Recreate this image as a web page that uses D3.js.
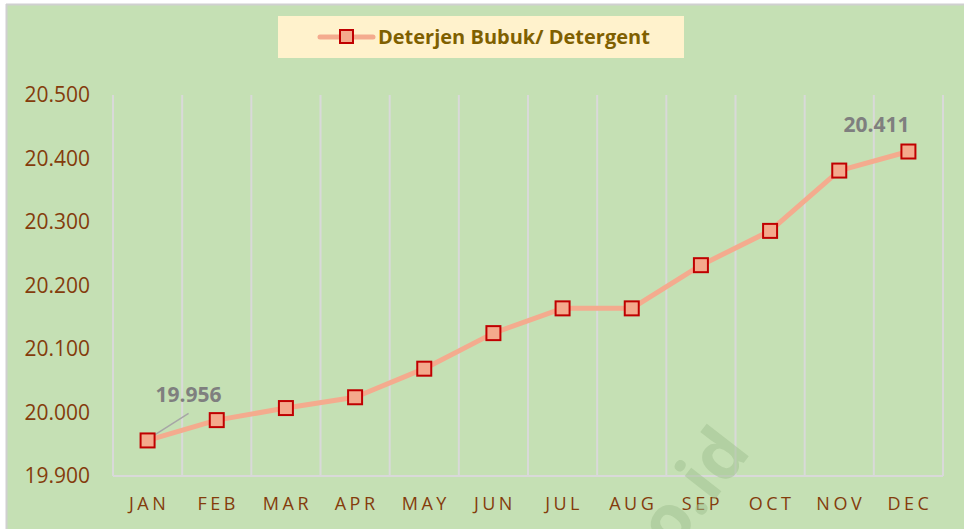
<!DOCTYPE html>
<html>
<head>
<meta charset="utf-8">
<script src="https://cdn.jsdelivr.net/npm/d3@7"></script>
<style>
  body { margin: 0; background: #fff; }
  svg { display: block; font-family: "Open Sans", "Noto Sans", sans-serif; }
</style>
</head>
<body>
<script>
var months = ["JAN","FEB","MAR","APR","MAY","JUN","JUL","AUG","SEP","OCT","NOV","DEC"];
var values = [19.956, 19.988, 20.007, 20.024, 20.069, 20.125, 20.164, 20.164, 20.232, 20.286, 20.381, 20.411];
var yTicks = [19.9, 20.0, 20.1, 20.2, 20.3, 20.4, 20.5];
var seriesName = "Deterjen Bubuk/ Detergent";

var W = 964, H = 529;
var margin = {top: 95, bottom: 53, left: 113, right: 21};
var width = W - margin.left - margin.right;
var height = H - margin.top - margin.bottom;
var fontFam = "'Open Sans', 'Noto Sans', sans-serif";

var svg = d3.select("body").append("svg")
  .attr("width", W).attr("height", H);

// background + frame (top and left edges visible)
svg.append("rect").attr("x", 0).attr("y", 0).attr("width", W).attr("height", H)
  .attr("fill", "#ffffff");
svg.append("rect").attr("x", 7).attr("y", 5).attr("width", W - 7).attr("height", H - 5)
  .attr("fill", "#c5e0b4");
svg.append("line").attr("x1", 6.5).attr("x2", 6.5).attr("y1", 4).attr("y2", H)
  .attr("stroke", "#d0d0d0").attr("stroke-width", 2);
svg.append("line").attr("x1", 6).attr("x2", W).attr("y1", 4.5).attr("y2", 4.5)
  .attr("stroke", "#d0d0d0").attr("stroke-width", 2);

var g = svg.append("g").attr("transform", "translate(" + margin.left + "," + margin.top + ")");

var x = d3.scaleBand().domain(months).range([0, width]);
var y = d3.scaleLinear().domain([19.9, 20.5]).range([height, 0]);

// vertical gridlines at band edges
var edges = months.map(function(m) { return x(m); }).concat([width]);
g.selectAll(".grid").data(edges).enter().append("line")
  .attr("x1", function(d) { return d; }).attr("x2", function(d) { return d; })
  .attr("y1", 0).attr("y2", height)
  .attr("stroke", "#d9d9d9").attr("stroke-width", 2);
g.append("line").attr("x1", 0).attr("x2", width).attr("y1", height).attr("y2", height)
  .attr("stroke", "#d9d9d9").attr("stroke-width", 2);

// watermark (partly off the bottom edge, as in the source)
svg.append("text")
  .attr("transform", "translate(752,452) rotate(-52)")
  .attr("text-anchor", "end")
  .attr("font-family", fontFam)
  .attr("font-size", 70).attr("font-weight", "bold")
  .attr("fill", "#9fbf90").attr("fill-opacity", 0.5)
  .text("bps.go.id");

// y axis
var yAxis = d3.axisLeft(y).tickValues(yTicks).tickSize(0).tickPadding(23)
  .tickFormat(function(d) { return d3.format(".3f")(d); });
g.append("g").call(yAxis)
  .attr("font-family", fontFam)
  .call(function(s) { s.select(".domain").remove(); })
  .selectAll("text")
  .attr("fill", "#843c0c").attr("font-size", 21);

// x axis
var xAxis = d3.axisBottom(x).tickSize(0).tickPadding(21);
g.append("g").attr("transform", "translate(0," + height + ")").call(xAxis)
  .attr("font-family", fontFam)
  .call(function(s) { s.select(".domain").remove(); })
  .selectAll("text")
  .attr("fill", "#843c0c").attr("font-size", 18)
  .attr("letter-spacing", "3.5px").attr("dx", "1.5px");

// line
var line = d3.line()
  .x(function(d, i) { return x(months[i]) + x.bandwidth() / 2; })
  .y(function(d) { return y(d); });
g.append("path").datum(values).attr("d", line)
  .attr("fill", "none").attr("stroke", "#f4ab8e").attr("stroke-width", 5)
  .attr("stroke-linejoin", "round");

// leader line for first label
g.append("line")
  .attr("x1", x(months[0]) + x.bandwidth() / 2).attr("y1", y(values[0]) - 1)
  .attr("x2", x(months[0]) + x.bandwidth() / 2 + 41).attr("y2", y(values[0]) - 27)
  .attr("stroke", "#a6a6a6").attr("stroke-width", 1.5);

// markers
var ms = 14;
g.selectAll(".pt").data(values).enter().append("rect")
  .attr("x", function(d, i) { return x(months[i]) + x.bandwidth() / 2 - ms / 2; })
  .attr("y", function(d) { return y(d) - ms / 2; })
  .attr("width", ms).attr("height", ms)
  .attr("fill", "#f4a98c").attr("stroke", "#c00000").attr("stroke-width", 2);

// data labels
g.append("text")
  .attr("x", x(months[0]) + x.bandwidth() / 2 + 41).attr("y", y(values[0]) - 38)
  .attr("text-anchor", "middle").attr("font-size", 21).attr("font-weight", "bold")
  .attr("fill", "#7f7f7f").text(d3.format(".3f")(values[0]));
g.append("text")
  .attr("x", x(months[11]) + x.bandwidth() / 2 - 32).attr("y", y(values[11]) - 20)
  .attr("text-anchor", "middle").attr("font-size", 21).attr("font-weight", "bold")
  .attr("fill", "#7f7f7f").text(d3.format(".3f")(values[11]));

// legend
var leg = svg.append("g");
leg.append("rect").attr("x", 278).attr("y", 16).attr("width", 406).attr("height", 42)
  .attr("fill", "#fff2cc");
leg.append("line").attr("x1", 320).attr("x2", 373).attr("y1", 37).attr("y2", 37)
  .attr("stroke", "#f4ab8e").attr("stroke-width", 5).attr("stroke-linecap", "round");
leg.append("rect").attr("x", 340).attr("y", 30).attr("width", 13).attr("height", 13)
  .attr("fill", "#f4a98c").attr("stroke", "#c00000").attr("stroke-width", 2);
leg.append("text").attr("x", 378).attr("y", 44)
  .attr("font-size", 20).attr("font-weight", "bold").attr("fill", "#7f6000")
  .text(seriesName);
</script>
</body>
</html>
